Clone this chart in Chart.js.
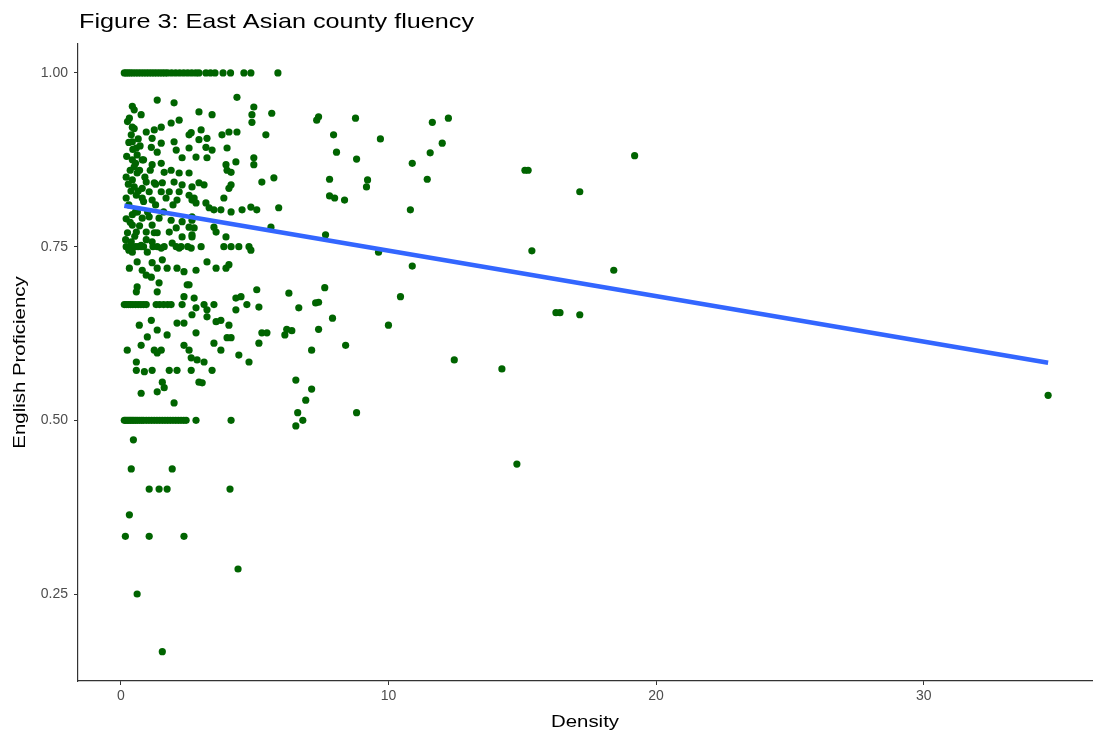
<!DOCTYPE html>
<html>
<head>
<meta charset="utf-8">
<script src="https://cdn.jsdelivr.net/npm/chart.js@4"></script>
<style>
  body { margin: 0; background: #fff; }
  #grafico { display: block; }
</style>
</head>
<body>
<canvas id="grafico" width="1096" height="734"></canvas>
<script>
// === Datos ===
// Condados con fluidez 1.00, 0.75, 0.667 y 0.50 (solo densidad)
const densidadFluidezTotal = [0.13, 0.2, 0.28, 0.36, 0.45, 0.55, 0.65, 0.75, 0.85, 0.95, 1.05, 1.15, 1.25, 1.35,
  1.45, 1.55, 1.65, 1.75, 1.9, 2.05, 2.2, 2.35, 2.5, 2.65, 2.8, 2.92, 3.18, 3.35, 3.52, 3.82, 4.1, 4.6, 4.86, 5.87];
const densidadTresCuartos = [0.2, 0.32, 0.43, 0.55, 0.65, 0.76, 0.85, 1.2, 1.36, 1.62, 2.07, 2.25, 2.5,
  3.0, 3.85, 4.12, 4.41, 4.79];
const densidadDosTercios = [0.13, 0.2, 0.28, 0.36, 0.45, 0.55, 0.65, 0.75, 0.85, 0.95, 1.32, 1.45, 1.6, 1.75,
  1.88, 2.29, 3.11, 3.48, 4.71];
const densidadMitad = [0.13, 0.18, 0.24, 0.3, 0.36, 0.42, 0.48, 0.55, 0.62, 0.7, 0.78, 0.85, 0.95, 1.05, 1.15,
  1.25, 1.35, 1.45, 1.55, 1.65, 1.75, 1.85, 1.95, 2.05, 2.15, 2.25, 2.35, 2.44, 2.81, 4.12];

// Puntos dispersos [densidad, proficiencia]
const puntosCercaDeCero = [
  [1.36, 0.961], [1.99, 0.957], [0.43, 0.952], [0.50, 0.947], [0.76, 0.940], [2.18, 0.932], [1.88, 0.928],
  [1.51, 0.922], [0.43, 0.922], [0.95, 0.915], [1.25, 0.918], [2.55, 0.911], [0.39, 0.911], [0.43, 0.901],
  [1.17, 0.906], [1.51, 0.899], [1.99, 0.901], [0.58, 0.892], [1.14, 0.893], [2.07, 0.889], [2.55, 0.892],
  [0.61, 0.882], [1.36, 0.886], [0.43, 0.875], [0.80, 0.875], [2.29, 0.878], [0.50, 0.865], [1.17, 0.868],
  [1.51, 0.870], [1.88, 0.860], [0.61, 0.856], [1.62, 0.857], [2.18, 0.856], [2.55, 0.856], [0.43, 0.846],
  [0.95, 0.843], [1.25, 0.842], [1.55, 0.842], [1.99, 0.843], [2.29, 0.839], [0.50, 0.836], [0.80, 0.834],
  [1.06, 0.829], [1.51, 0.829], [1.81, 0.829], [2.18, 0.829], [2.55, 0.824], [0.58, 0.824], [0.80, 0.820],
  [1.17, 0.817], [1.69, 0.820], [2.10, 0.817], [2.66, 0.817], [0.43, 0.796], [0.80, 0.791], [1.06, 0.793],
  [1.43, 0.791], [1.88, 0.788], [2.29, 0.786], [2.66, 0.793], [0.43, 0.781], [1.17, 0.781], [2.07, 0.777],
  [2.55, 0.778], [0.58, 0.771], [0.95, 0.771], [1.36, 0.770], [1.81, 0.771], [2.29, 0.764], [2.66, 0.767],
  [0.39, 0.757], [0.76, 0.752], [1.17, 0.757], [1.51, 0.748], [1.92, 0.755], [2.18, 0.748], [2.63, 0.748],
  [0.43, 0.742], [0.99, 0.742],
  [0.25, 0.93], [0.3, 0.90], [0.22, 0.88], [0.35, 0.86], [0.28, 0.84], [0.65, 0.83], [0.3, 0.81], [0.55, 0.80],
  [0.7, 0.86], [0.65, 0.905], [0.9, 0.85], [0.2, 0.79], [0.25, 0.77], [0.7, 0.78], [0.3, 0.745], [1.0, 0.80],
  [0.85, 0.815], [1.3, 0.81], [1.6, 0.80], [1.95, 0.81], [1.3, 0.84], [0.85, 0.875], [1.1, 0.86], [0.2, 0.82],
  [0.45, 0.89], [0.18, 0.76], [0.95, 0.76], [1.25, 0.77], [0.5, 0.92], [0.2, 0.85],
  [0.32, 0.935], [0.55, 0.87], [0.38, 0.83], [0.62, 0.80], [0.35, 0.785], [0.52, 0.765], [0.72, 0.895],
  [0.32, 0.719], [0.61, 0.728], [0.80, 0.716], [0.95, 0.709], [1.17, 0.727], [1.36, 0.719], [1.55, 0.731],
  [1.73, 0.719], [1.14, 0.706], [2.10, 0.719], [2.36, 0.714], [2.48, 0.695], [0.61, 0.692], [0.58, 0.685],
  [1.43, 0.698], [1.36, 0.685], [2.36, 0.678], [2.81, 0.662], [0.69, 0.637], [1.14, 0.644], [1.36, 0.630],
  [1.73, 0.623], [2.10, 0.640], [2.36, 0.640], [0.99, 0.620], [0.76, 0.608], [0.24, 0.601], [1.25, 0.601],
  [1.51, 0.601], [1.36, 0.597], [2.36, 0.608], [0.58, 0.584], [0.58, 0.572], [0.88, 0.570], [1.17, 0.572],
  [1.81, 0.572], [2.10, 0.572], [1.55, 0.555], [1.62, 0.547], [0.76, 0.539], [1.36, 0.541], [1.99, 0.525]
];
const puntosDensidadBaja = [
  [4.34, 0.965], [4.97, 0.951], [5.64, 0.942], [4.90, 0.940], [4.90, 0.929], [2.92, 0.944], [3.41, 0.940],
  [2.63, 0.914], [3.00, 0.918], [3.78, 0.911], [4.04, 0.915], [4.34, 0.915], [5.42, 0.911], [2.92, 0.904],
  [3.22, 0.906], [3.18, 0.893], [3.41, 0.889], [3.97, 0.892], [2.81, 0.879], [3.22, 0.878], [3.93, 0.868],
  [4.30, 0.872], [4.97, 0.878], [4.97, 0.868], [3.97, 0.860], [4.12, 0.857], [5.27, 0.843], [5.72, 0.849],
  [2.92, 0.842], [3.11, 0.839], [2.66, 0.836], [4.12, 0.839], [4.04, 0.834], [2.74, 0.820], [3.85, 0.820],
  [2.81, 0.813], [3.18, 0.813], [3.30, 0.806], [3.48, 0.803], [3.74, 0.803], [4.12, 0.800], [4.53, 0.803],
  [4.86, 0.807], [5.08, 0.803], [5.90, 0.806], [2.66, 0.788], [3.48, 0.778], [2.74, 0.777], [5.61, 0.778],
  [2.66, 0.764], [3.56, 0.771], [3.93, 0.764], [4.86, 0.745], [2.81, 0.716], [3.22, 0.728], [3.56, 0.719],
  [3.93, 0.719], [4.04, 0.724], [2.55, 0.695], [2.74, 0.676], [3.22, 0.659], [4.30, 0.676], [4.49, 0.678],
  [4.30, 0.659], [5.08, 0.688], [5.16, 0.663], [2.66, 0.652], [3.22, 0.649], [3.56, 0.642], [3.74, 0.644],
  [4.04, 0.637], [2.81, 0.626], [5.27, 0.626], [5.46, 0.626], [3.97, 0.619], [4.12, 0.619], [5.16, 0.611],
  [3.48, 0.611], [3.74, 0.601], [2.55, 0.601], [2.63, 0.590], [2.85, 0.587], [3.11, 0.584], [3.41, 0.572],
  [4.41, 0.594], [4.79, 0.584], [2.63, 0.572], [2.92, 0.555], [3.04, 0.554]
];
const puntosDispersos = [
  [7.39, 0.937], [7.32, 0.932], [8.77, 0.935], [7.95, 0.911], [8.06, 0.886], [9.70, 0.905], [8.81, 0.876],
  [11.64, 0.929], [12.24, 0.935], [12.01, 0.899], [11.56, 0.885], [10.89, 0.870], [11.45, 0.847], [7.80, 0.847],
  [9.22, 0.846], [9.18, 0.836], [7.80, 0.823], [7.99, 0.820], [8.36, 0.817], [10.82, 0.803], [7.65, 0.767],
  [9.63, 0.742], [10.89, 0.722], [6.28, 0.683], [7.62, 0.691], [6.65, 0.662], [7.28, 0.669], [7.39, 0.670],
  [7.91, 0.647], [10.45, 0.678], [10.00, 0.637], [6.20, 0.631], [6.39, 0.629], [6.13, 0.623], [7.39, 0.631],
  [8.40, 0.608], [7.13, 0.601], [12.46, 0.587], [14.24, 0.574], [6.54, 0.558], [7.13, 0.545], [6.91, 0.529],
  [6.61, 0.511], [6.80, 0.500], [6.54, 0.492], [8.81, 0.511],
  [19.20, 0.881], [15.10, 0.860], [15.22, 0.860], [17.15, 0.829], [15.36, 0.744], [18.42, 0.716],
  [16.26, 0.655], [16.41, 0.655], [17.15, 0.652], [14.80, 0.437], [34.65, 0.536]
];
const puntosColaInferior = [
  [0.47, 0.472], [0.39, 0.430], [1.92, 0.430], [1.06, 0.401], [1.43, 0.401], [1.73, 0.401], [4.08, 0.401],
  [0.32, 0.364], [0.17, 0.333], [1.06, 0.333], [2.36, 0.333], [4.38, 0.286], [0.61, 0.250], [1.55, 0.167]
];

// Recta de tendencia (lm)
const densidadTendencia = [0.13, 34.65];
const proficienciaTendencia = [0.809, 0.583];

const marcasX = [0, 10, 20, 30];
const marcasY = [0.25, 0.5, 0.75, 1.0];

const TITULO = 'Figure 3: East Asian county fluency';
const TITULO_X = 'Density';
const TITULO_Y = 'English Proficiency';

// === Construcción de los puntos ===
function filaConstante(densidades, valor) {
  return densidades.map(x => ({ x: x, y: valor }));
}
function desdePares(pares) {
  return pares.map(p => ({ x: p[0], y: p[1] }));
}

const todosLosPuntos = [].concat(
  filaConstante(densidadFluidezTotal, 1.0),
  filaConstante(densidadTresCuartos, 0.75),
  filaConstante(densidadDosTercios, 2 / 3),
  filaConstante(densidadMitad, 0.5),
  desdePares(puntosCercaDeCero),
  desdePares(puntosDensidadBaja),
  desdePares(puntosDispersos),
  desdePares(puntosColaInferior)
);

const puntosTendencia = densidadTendencia.map((x, i) => ({ x: x, y: proficienciaTendencia[i] }));

// Texto estirado horizontalmente como en la figura original
function textoEstirado(ctx, texto, x, y, rotacion, factor, fuente, alineacion) {
  ctx.save();
  ctx.translate(x, y);
  ctx.rotate(rotacion);
  ctx.scale(factor, 1);
  ctx.font = fuente;
  ctx.fillStyle = '#000';
  ctx.textAlign = alineacion;
  ctx.textBaseline = 'alphabetic';
  ctx.fillText(texto, 0, 0);
  ctx.restore();
}

const pluginTitulos = {
  id: 'titulos',
  afterDraw(chart) {
    const ctx = chart.ctx;
    const area = chart.chartArea;
    textoEstirado(ctx, TITULO, 79, 28, 0, 1.2, '21px "Liberation Sans", Arial, sans-serif', 'left');
    textoEstirado(ctx, TITULO_X, (area.left + area.right) / 2, 727, 0, 1.2, '17px "Liberation Sans", Arial, sans-serif', 'center');
    textoEstirado(ctx, TITULO_Y, 25, (area.top + area.bottom) / 2, -Math.PI / 2, 1.2, '17px "Liberation Sans", Arial, sans-serif', 'center');
  }
};

const fuenteMarcas = { family: '"Liberation Sans", Arial, sans-serif', size: 14 };

new Chart(document.getElementById('grafico'), {
  type: 'scatter',
  data: {
    datasets: [
      {
        type: 'line',
        data: puntosTendencia,
        borderColor: '#3366FF',
        borderWidth: 4.5,
        pointRadius: 0,
        fill: false,
        order: 0
      },
      {
        data: todosLosPuntos,
        backgroundColor: '#006400',
        borderWidth: 0,
        pointRadius: 3.6,
        order: 1
      }
    ]
  },
  options: {
    responsive: false,
    animation: false,
    layout: { padding: { top: 44, right: 0, left: 0, bottom: 0 } },
    plugins: {
      legend: { display: false },
      tooltip: { enabled: false },
      title: { display: false }
    },
    scales: {
      x: {
        type: 'linear',
        min: -1.60,
        max: 36.29,
        afterBuildTicks: eje => { eje.ticks = marcasX.map(v => ({ value: v })); },
        afterFit: eje => { eje.height = 53; },
        grid: { drawOnChartArea: false, drawTicks: true, tickLength: 4, color: '#333', lineWidth: 1 },
        border: { display: true, color: '#333', width: 1.2 },
        ticks: { font: fuenteMarcas, color: '#4d4d4d', padding: 3, maxRotation: 0 }
      },
      y: {
        type: 'linear',
        min: 0.1248,
        max: 1.0417,
        afterBuildTicks: eje => { eje.ticks = marcasY.map(v => ({ value: v })); },
        afterFit: eje => { eje.width = 78; },
        grid: { drawOnChartArea: false, drawTicks: true, tickLength: 4, color: '#333', lineWidth: 1 },
        border: { display: true, color: '#333', width: 1.2 },
        ticks: { font: fuenteMarcas, color: '#4d4d4d', padding: 6, callback: v => v.toFixed(2) }
      }
    }
  },
  plugins: [pluginTitulos]
});
</script>
</body>
</html>
